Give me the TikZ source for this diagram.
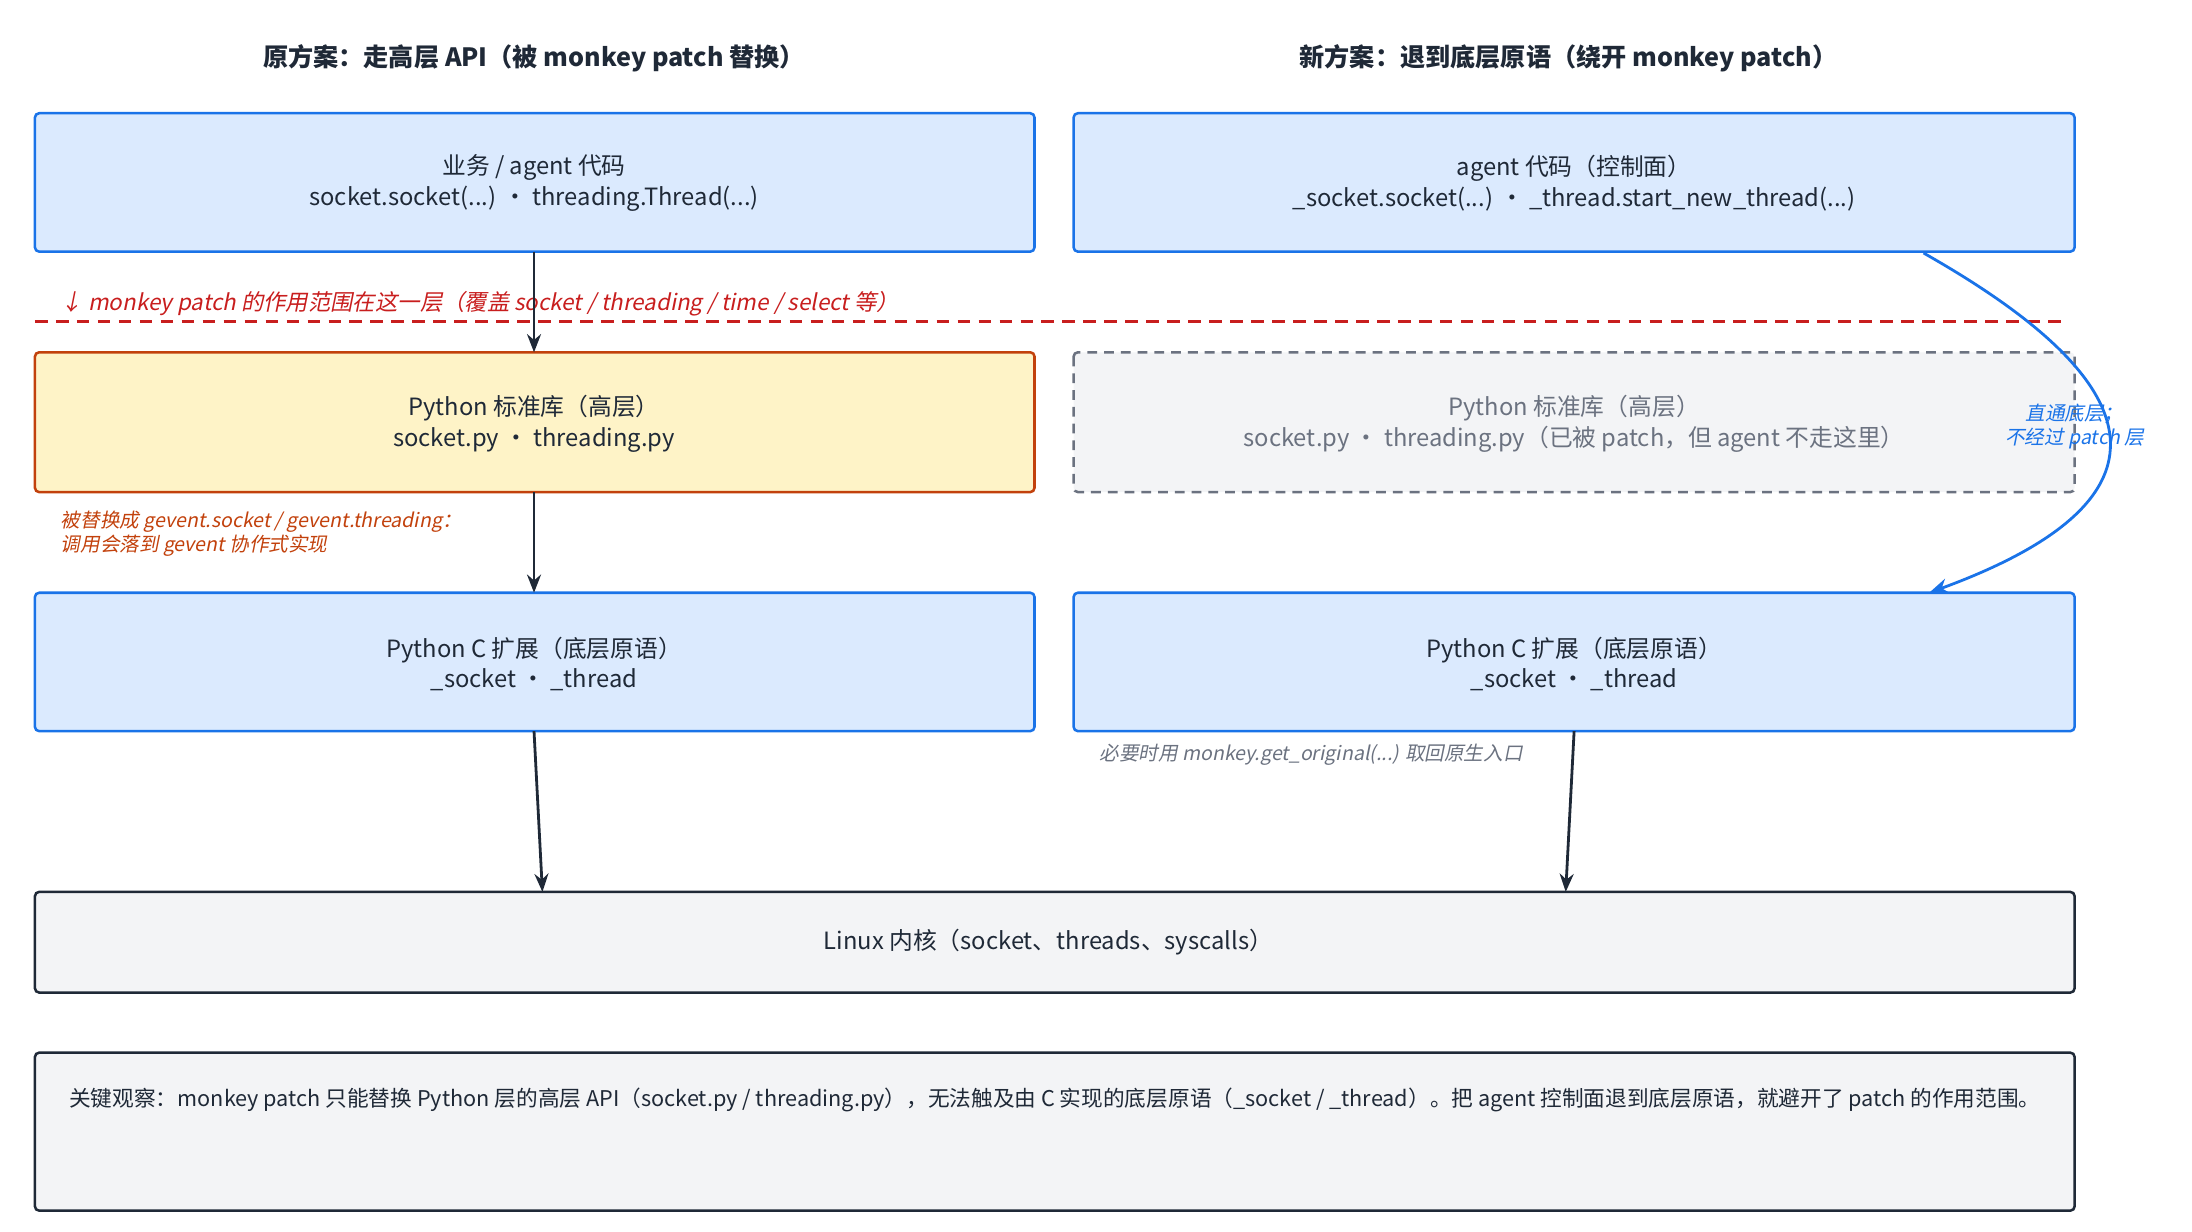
\documentclass[tikz,border=0pt]{standalone}
\usepackage{fontspec}
\setmainfont{Noto Sans CJK SC}
\newfontfamily\itf{Noto Sans CJK SC}[FakeSlant=0.2]
\usetikzlibrary{arrows.meta}
\definecolor{bfill}{HTML}{DBEAFE}\definecolor{bdraw}{HTML}{1A73E8}
\definecolor{yfill}{HTML}{FEF3C7}\definecolor{ydraw}{HTML}{C2410C}
\definecolor{gfill}{HTML}{F3F4F6}\definecolor{gdraw}{HTML}{6B7280}
\definecolor{txt}{HTML}{1F2937}\definecolor{red}{HTML}{C81E1E}
\definecolor{dark}{HTML}{1F2937}
\begin{document}
\begin{tikzpicture}[x=1pt,y=-1pt,
 box/.style={draw=bdraw,fill=bfill,line width=1.8pt,rounded corners=3pt},
 t/.style={align=center,text=txt,font=\fontsize{17}{22}\selectfont},
 ar/.style={draw=dark,line width=2pt,-{Stealth[length=13pt,width=10pt]}}]
\useasboundingbox (0,0) rectangle (1568,881);
\node[font=\fontsize{18}{22}\selectfont\bfseries,text=txt] (h1) at (382,42) {原方案：走高层 API（被 monkey patch 替换）};
\node[font=\fontsize{18}{22}\selectfont\bfseries,text=txt] (h2) at (1122,42) {新方案：退到底层原语（绕开 monkey patch）};
\draw[box] (25,81) rectangle (740,180);
\node[t] (a1) at (382,131) {业务 / agent 代码\\socket.socket(...) ・ threading.Thread(...)};
\draw[box] (768,81) rectangle (1484,180);
\node[t] (b1) at (1126,131) {agent 代码（控制面）\\\_socket.socket(...) ・ \_thread.start\_new\_thread(...)};
\draw[red,dashed,line width=1.8pt,dash pattern=on 9pt off 6pt] (25,230) -- (1478,230);
\node[anchor=west,text=red,font=\fontsize{16}{20}\selectfont\itf] (rl) at (40,217) {↓ monkey patch 的作用范围在这一层（覆盖 socket / threading / time / select 等）};
\draw[draw=ydraw,fill=yfill,line width=1.8pt,rounded corners=3pt] (25,252) rectangle (740,352);
\node[t] (a2) at (382,303) {Python 标准库（高层）\\socket.py ・ threading.py};
\draw[draw=gdraw,fill=gfill,line width=1.8pt,dashed,dash pattern=on 7pt off 5pt,rounded corners=3pt] (768,252) rectangle (1484,352);
\node[t,text=gdraw] (b2) at (1126,303) {Python 标准库（高层）\\socket.py ・ threading.py（已被 patch，但 agent 不走这里）};
\node[anchor=west,align=left,text=ydraw,font=\fontsize{14}{17}\selectfont\itf] (ol) at (40,382) {被替换成 gevent.socket / gevent.threading：\\调用会落到 gevent 协作式实现};
\draw[box] (25,424) rectangle (740,523);
\node[t] (a3) at (382,475) {Python C 扩展（底层原语）\\\_socket ・ \_thread};
\draw[box] (768,424) rectangle (1484,523);
\node[t] (b3) at (1126,475) {Python C 扩展（底层原语）\\\_socket ・ \_thread};
\node[anchor=west,text=gdraw,font=\fontsize{14}{17}\selectfont\itf] (gl) at (783,540) {必要时用 monkey.get\_original(...) 取回原生入口};
\draw[draw=dark,fill=gfill,line width=1.8pt,rounded corners=3pt] (25,638) rectangle (1484,710);
\node[t] (k) at (750,674) {Linux 内核（socket、threads、syscalls）};
\draw[draw=dark,fill=gfill,line width=1.8pt,rounded corners=3pt] (25,753) rectangle (1484,866);
\node[anchor=west,text=txt,font=\fontsize{15.5}{20}\selectfont] (n) at (46,787) {关键观察：monkey patch 只能替换 Python 层的高层 API（socket.py / threading.py），无法触及由 C 实现的底层原语（\_socket / \_thread）。把 agent 控制面退到底层原语，就避开了 patch 的作用范围。};
\coordinate (s1) at (382,180); \coordinate (e1) at (382,252);
\coordinate (s2) at (382,352); \coordinate (e2) at (382,424);
\coordinate (s3) at (382,523); \coordinate (e3) at (388,638);
\coordinate (s4) at (1126,523); \coordinate (e4) at (1120,638);
\draw[ar] (s1) -- (e1);
\draw[ar] (s2) -- (e2);
\draw[ar] (s3) -- (e3);
\draw[ar] (s4) -- (e4);
\coordinate (c1) at (1376,181); \coordinate (c2) at (1380,424);
\draw[bdraw,line width=2pt,-{Stealth[length=14pt,width=11pt]}] (c1) .. controls (1480,240) and (1610,340) .. (c2);
\node[text=bdraw,align=center,font=\fontsize{14}{17}\selectfont\itf] (bl) at (1484,305) {直通底层；\\不经过 patch 层};
\end{tikzpicture}
\end{document}
